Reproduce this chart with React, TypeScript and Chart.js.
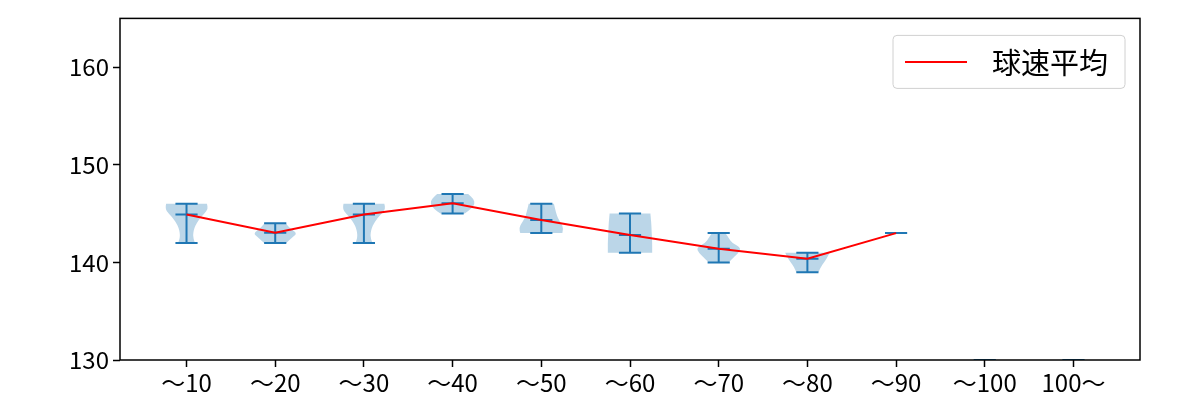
import { useEffect, useRef } from "react";
import { Chart, registerables } from "chart.js";

Chart.register(...registerables);

// ---- data ----
const categories = ["～10", "～20", "～30", "～40", "～50", "～60", "～70", "～80", "～90", "～100", "100～"];
const positions = [1, 2, 3, 4, 5, 6, 7, 8, 9, 10, 11];
const mins = [142, 142, 142, 145, 143, 141, 140, 139, 143, 130, 130];
const maxs = [146, 144, 146, 147, 146, 145, 143, 141, 143, 130, 130];
const means: (number | null)[] = [144.9, 143.05, 144.9, 146.05, 144.35, 142.8, 141.4, 140.37, 143, null, null];
// violin half-width (fraction of max) at evenly spaced levels from min (first) to max (last)
const violinProfiles: (number[] | null)[] = [
  [0.38, 0.3, 0.3, 0.35, 0.45, 0.6, 0.8, 0.97, 0.92],
  [0.5, 0.75, 1.0, 0.65, 0.48],
  [0.38, 0.3, 0.3, 0.35, 0.45, 0.6, 0.8, 0.97, 0.92],
  [0.55, 0.85, 1.0, 0.95, 0.7],
  [0.95, 1.0, 0.9, 0.75, 0.68, 0.62, 0.57],
  [1.0, 1.0, 1.0, 0.99, 0.98, 0.97, 0.96, 0.94, 0.92],
  [0.45, 0.68, 0.9, 1.0, 0.6, 0.45, 0.3],
  [0.5, 0.6, 0.75, 0.9, 1.0],
  null,
  null,
  null,
];
const yTicks = [130, 140, 150, 160];
const legendLabel = "球速平均";

const FONT = "'Noto Sans CJK JP', 'Noto Sans', sans-serif";

const violinPlugin = {
  id: "violins",
  beforeDatasetsDraw(chart: any) {
    const { ctx, chartArea, scales } = chart;
    const x = scales.x;
    const y = scales.y;
    ctx.save();
    ctx.beginPath();
    ctx.rect(chartArea.left, chartArea.top, chartArea.width, chartArea.height);
    ctx.clip();
    const halfW = x.getPixelForValue(1.25) - x.getPixelForValue(1);
    const capW = halfW / 2;
    positions.forEach((pos, i) => {
      const cx = x.getPixelForValue(pos);
      const prof = violinProfiles[i];
      if (prof && prof.length > 1) {
        const n = prof.length;
        const pts: [number, number][] = [];
        for (let k = 0; k < n; k++) {
          const v = mins[i] + ((maxs[i] - mins[i]) * k) / (n - 1);
          pts.push([cx + prof[k] * halfW, y.getPixelForValue(v)]);
        }
        for (let k = n - 1; k >= 0; k--) {
          const v = mins[i] + ((maxs[i] - mins[i]) * k) / (n - 1);
          pts.push([cx - prof[k] * halfW, y.getPixelForValue(v)]);
        }
        ctx.beginPath();
        const drawSide = (s: [number, number][], first: boolean) => {
          if (first) ctx.moveTo(s[0][0], s[0][1]);
          else ctx.lineTo(s[0][0], s[0][1]);
          for (let k = 1; k < s.length - 1; k++) {
            const mx = (s[k][0] + s[k + 1][0]) / 2;
            const my = (s[k][1] + s[k + 1][1]) / 2;
            ctx.quadraticCurveTo(s[k][0], s[k][1], mx, my);
          }
          ctx.lineTo(s[s.length - 1][0], s[s.length - 1][1]);
        };
        drawSide(pts.slice(0, n), true);
        drawSide(pts.slice(n), false);
        ctx.closePath();
        ctx.fillStyle = "rgba(31,119,180,0.3)";
        ctx.fill();
      }
      ctx.strokeStyle = "#1f77b4";
      ctx.lineWidth = 2;
      const yMin = y.getPixelForValue(mins[i]);
      const yMax = y.getPixelForValue(maxs[i]);
      ctx.beginPath();
      ctx.moveTo(cx, yMin);
      ctx.lineTo(cx, yMax);
      ctx.moveTo(cx - capW, yMin);
      ctx.lineTo(cx + capW, yMin);
      ctx.moveTo(cx - capW, yMax);
      ctx.lineTo(cx + capW, yMax);
      const m = means[i];
      if (m !== null) {
        const yM = y.getPixelForValue(m);
        ctx.moveTo(cx - capW, yM);
        ctx.lineTo(cx + capW, yM);
      }
      ctx.stroke();
    });
    ctx.restore();
  },
  afterDraw(chart: any) {
    const { ctx, chartArea } = chart;
    ctx.save();
    // frame
    ctx.strokeStyle = "#000";
    ctx.lineWidth = 1.5;
    ctx.strokeRect(chartArea.left, chartArea.top, chartArea.width, chartArea.height);
    // legend
    const bw = 232;
    const bh = 53;
    const bx = chartArea.right - 15 - bw;
    const by = chartArea.top + 17;
    const r = 4;
    ctx.beginPath();
    ctx.moveTo(bx + r, by);
    ctx.lineTo(bx + bw - r, by);
    ctx.quadraticCurveTo(bx + bw, by, bx + bw, by + r);
    ctx.lineTo(bx + bw, by + bh - r);
    ctx.quadraticCurveTo(bx + bw, by + bh, bx + bw - r, by + bh);
    ctx.lineTo(bx + r, by + bh);
    ctx.quadraticCurveTo(bx, by + bh, bx, by + bh - r);
    ctx.lineTo(bx, by + r);
    ctx.quadraticCurveTo(bx, by, bx + r, by);
    ctx.closePath();
    ctx.fillStyle = "rgba(255,255,255,0.8)";
    ctx.fill();
    ctx.strokeStyle = "#d0d0d0";
    ctx.lineWidth = 1;
    ctx.stroke();
    const cy = by + bh / 2;
    ctx.strokeStyle = "#ff0000";
    ctx.lineWidth = 2;
    ctx.beginPath();
    ctx.moveTo(bx + 12, cy);
    ctx.lineTo(bx + 74, cy);
    ctx.stroke();
    ctx.fillStyle = "#000";
    ctx.font = `29px ${FONT}`;
    ctx.textBaseline = "middle";
    ctx.textAlign = "left";
    ctx.fillText(legendLabel, bx + 99, cy + 1);
    ctx.restore();
  },
};

export default function App() {
  const ref = useRef<HTMLCanvasElement | null>(null);
  useEffect(() => {
    if (!ref.current) return;
    const chart = new Chart(ref.current, {
      type: "line",
      data: {
        datasets: [
          {
            label: legendLabel,
            data: positions.map((p, i) => ({ x: p, y: means[i] })) as any,
            borderColor: "#ff0000",
            borderWidth: 2,
            pointRadius: 0,
            fill: false,
            tension: 0,
          },
        ],
      },
      options: {
        animation: false,
        responsive: false,
        layout: { padding: { left: 0, top: 18, right: 60, bottom: 0 } },
        plugins: { legend: { display: false }, tooltip: { enabled: false } },
        scales: {
          x: {
            type: "linear",
            min: 0.25,
            max: 11.75,
            afterBuildTicks: (scale: any) => {
              scale.ticks = positions.map((v) => ({ value: v }));
            },
            afterFit: (scale: any) => {
              scale.height = 40;
            },
            ticks: {
              autoSkip: false,
              maxRotation: 0,
              padding: 1,
              color: "#000",
              font: { family: FONT, size: 24 },
              callback: (v: any) => categories[Math.round(Number(v)) - 1] ?? "",
            },
            grid: { drawOnChartArea: false, drawTicks: true, tickLength: 7, tickWidth: 1.5, color: "#000" },
            border: { display: false },
          },
          y: {
            type: "linear",
            min: 130,
            max: 165,
            afterBuildTicks: (scale: any) => {
              scale.ticks = yTicks.map((v) => ({ value: v }));
            },
            afterFit: (scale: any) => {
              scale.width = 120;
            },
            ticks: {
              padding: 4,
              color: "#000",
              font: { family: FONT, size: 24 },
            },
            grid: { drawOnChartArea: false, drawTicks: true, tickLength: 7, tickWidth: 1.5, color: "#000" },
            border: { display: false },
          },
        },
      },
      plugins: [violinPlugin],
    });
    return () => chart.destroy();
  }, []);
  return (
    <div style={{ position: "absolute", left: 0, top: 0, width: 1200, height: 400 }}>
      <canvas ref={ref} width={1200} height={400} style={{ display: "block" }} />
    </div>
  );
}
